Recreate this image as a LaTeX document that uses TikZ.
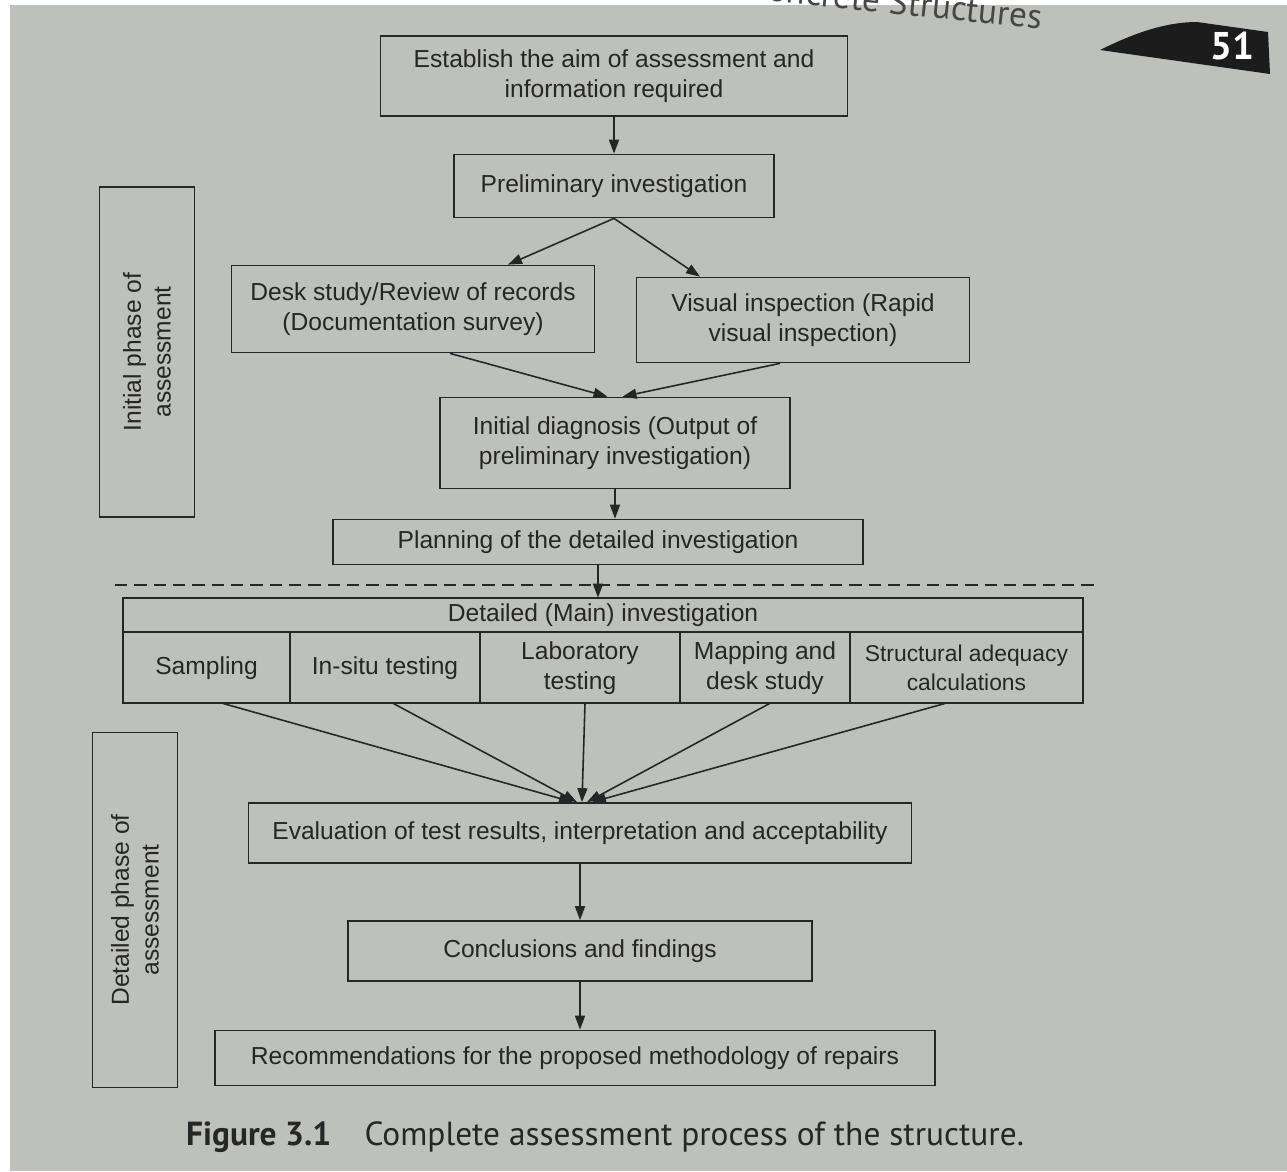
\documentclass[tikz,border=0pt]{standalone}
\usepackage{fontspec}
\setmainfont{Liberation Sans}
\newfontfamily\capfont{PT Sans}
\usepackage{tikz}
\usetikzlibrary{arrows.meta, positioning, calc}
\definecolor{paper}{RGB}{190,192,188}
\definecolor{ink}{RGB}{38,38,38}
\definecolor{tabdark}{RGB}{28,28,28}
\definecolor{headgrey}{RGB}{70,70,70}
\tikzset{
  box/.style={rectangle, draw=ink, text=ink, line width=1pt,
    align=center, font=\fontsize{14}{17}\selectfont},
  cell/.style={box, outer sep=0pt, minimum height=1.42cm},
  sidebox/.style={box, rotate=90},
  arrow/.style={-{Triangle[length=2.8mm, width=2mm]}, line width=0.9pt, color=ink}
}

\begin{document}
\begin{tikzpicture}[x=0.02cm, y=-0.02cm]

  % page
  \fill[white] (0,0) rectangle (1287,1171);
  \fill[paper] (10,5) rectangle (1287,1171);
  \useasboundingbox (0,0) rectangle (1287,1171);
  \clip (0,0) rectangle (1287,1171);

  % running head and page tab
  \node[font=\capfont\fontsize{20}{23}\selectfont, text=headgrey, anchor=base east, rotate=-6] (head) at (1047,30) {Concrete Structures};
  \fill[tabdark] (1100,50) .. controls (1140,30) and (1170,22) .. (1197,22) -- (1268,32) -- (1270,74) -- cycle;
  \node[font=\capfont\bfseries\fontsize{22}{24}\selectfont, text=white] (pageno) at (1232,46) {51};

  % initial phase
  \node[box, minimum width=9.34cm, minimum height=1.6cm] (aim) at (614,76) {Establish the aim of assessment and\\information required};
  \node[box, minimum width=6.4cm, minimum height=1.26cm] (prelim) at (614,186) {Preliminary investigation};
  \node[box, minimum width=7.26cm, minimum height=1.74cm] (desk) at (413,309) {Desk study/Review of records\\(Documentation survey)};
  \node[box, minimum width=6.66cm, minimum height=1.7cm] (visual) at (803,320) {Visual inspection (Rapid\\visual inspection)};
  \node[box, minimum width=7cm, minimum height=1.82cm] (diag) at (615,443) {Initial diagnosis (Output of\\preliminary investigation)};
  \node[box, minimum width=10.6cm, minimum height=0.9cm] (plan) at (598,542) {Planning of the detailed investigation};

  % split between the two phases
  \coordinate (cutL) at (115,585);
  \coordinate (cutR) at (1095,585);
  \draw[ink, line width=0.9pt, dash pattern=on 7pt off 4pt] (cutL) -- (cutR);

  % detailed phase
  \node[box, outer sep=0pt, minimum width=19.2cm, minimum height=0.68cm] (main) at (603,615) {Detailed (Main) investigation};
  \node[cell, minimum width=3.34cm, anchor=north west] (sampling) at (main.south west) {Sampling};
  \node[cell, minimum width=3.8cm, right=0pt of sampling] (insitu) {In-situ testing};
  \node[cell, minimum width=4cm, right=0pt of insitu] (lab) {Laboratory\\testing};
  \node[cell, minimum width=3.4cm, right=0pt of lab] (mapping) {Mapping and\\desk study};
  \node[cell, minimum width=4.66cm, right=0pt of mapping, font=\fontsize{13}{16}\selectfont] (adequacy) {Structural adequacy\\calculations};

  \node[box, minimum width=13.26cm, minimum height=1.2cm] (eval) at (580,833) {Evaluation of test results, interpretation and acceptability};
  \node[box, minimum width=9.28cm, minimum height=1.2cm] (concl) at (580,951) {Conclusions and findings};
  \node[box, minimum width=14.4cm, minimum height=1.1cm] (recom) at (575,1058) {Recommendations for the proposed methodology of repairs};

  % phase labels
  \node[sidebox, minimum width=6.6cm, minimum height=1.9cm] (initphase) at (147,352) {Initial phase of\\assessment};
  \node[sidebox, minimum width=7.1cm, minimum height=1.7cm] (detphase) at (135,910) {Detailed phase of\\assessment};

  % caption
  \node[font=\capfont\fontsize{19}{22}\selectfont, text=ink, anchor=base west] (caption) at (180,1145) {\textbf{Figure 3.1}\quad Complete assessment process of the structure.};

  % arrows
  \draw[arrow] (aim) -- (prelim);
  \draw[arrow] (prelim.south) -- ([xshift=1.9cm]desk.north);
  \draw[arrow] (prelim.south) -- ([xshift=-2.06cm]visual.north);
  \draw[arrow] ([xshift=0.74cm]desk.south) -- ([xshift=-0.15cm]diag.north);
  \draw[arrow] ([xshift=-0.46cm]visual.south) -- ([xshift=0.15cm]diag.north);
  \draw[arrow] (diag.south) -- (diag.south |- plan.north);
  \draw[arrow] (plan.south) -- (plan.south |- main.north);
  \foreach \c/\s/\e in {sampling/0.32/-0.14, insitu/0.16/-0.06, lab/0.1/0.04, mapping/0.1/0.14, adequacy/-0.42/0.24}
    \draw[arrow] ([xshift=\s cm]\c.south) -- ([xshift=\e cm]eval.north);
  \draw[arrow] (eval) -- (concl);
  \draw[arrow] (concl.south) -- (concl.south |- recom.north);

\end{tikzpicture}
\end{document}
